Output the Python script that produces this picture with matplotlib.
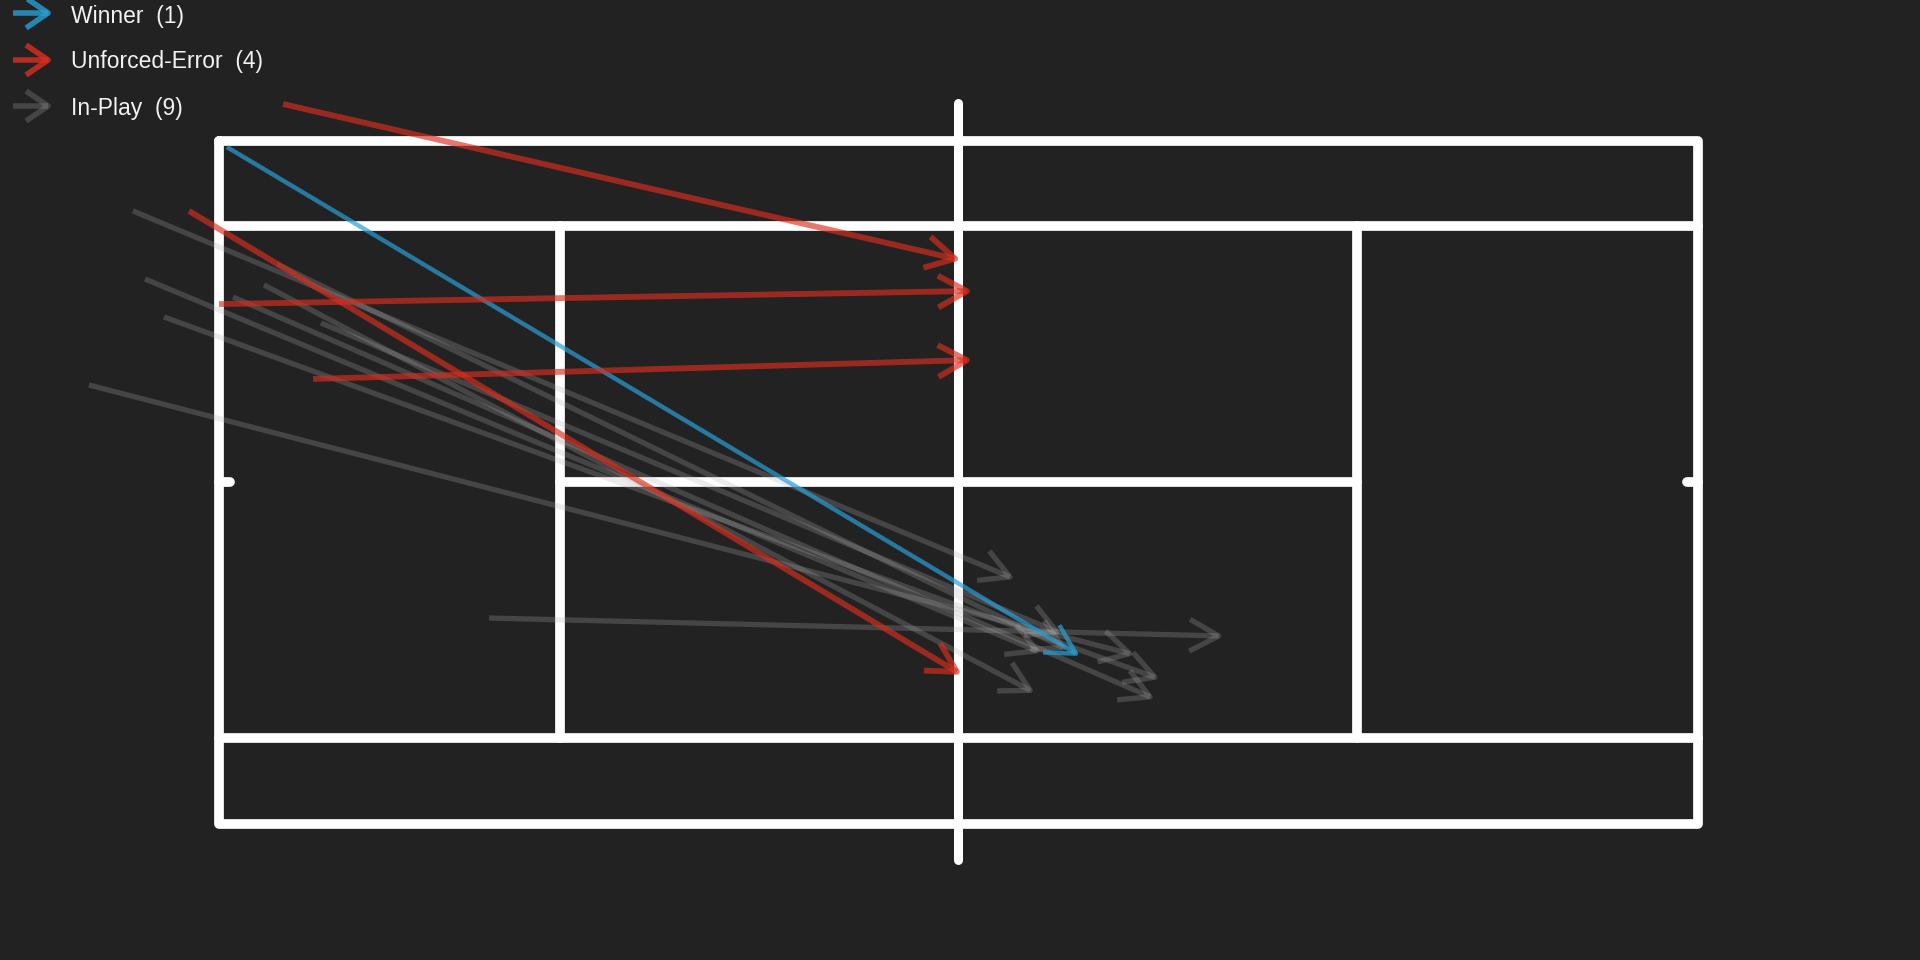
import matplotlib
matplotlib.use("Agg")
import matplotlib.pyplot as plt
from matplotlib.patches import FancyArrowPatch

plt.rcParams['font.family'] = ['Liberation Sans', 'DejaVu Sans']

BG = "#222222"

# shot data in feet: court is 78 x 36, origin at top-left corner of the doubles court
outcomes = ["Winner", "Unforced-Error", "In-Play"]
outcome_colors = {"Winner": "#2a9fd6", "Unforced-Error": "#db2e1f", "In-Play": "#b0b0b0"}
outcome_alpha = {"Winner": 0.7, "Unforced-Error": 0.65, "In-Play": 0.25}
legend_alpha = {"Winner": 0.8, "Unforced-Error": 0.8, "In-Play": 0.25}

winner_start_x = [0.42]
winner_start_y = [0.32]
winner_end_x = [45.41]
winner_end_y = [27.16]

error_start_x = [3.38, 0.00, 4.96, -1.58]
error_start_y = [-1.95, 8.60, 12.55, 3.69]
error_end_x = [39.14, 39.77, 39.77, 39.19]
error_end_y = [6.28, 7.91, 11.55, 28.16]

inplay_start_x = [-4.54, -3.90, -2.90, -6.86, 2.37, 0.74, 5.38, 14.24, 3.06]
inplay_start_y = [3.69, 7.28, 9.28, 12.87, 7.59, 8.23, 9.60, 25.16, 6.49]
inplay_end_x = [41.98, 43.41, 49.63, 48.31, 43.04, 49.37, 44.46, 53.01, 44.78]
inplay_end_y = [23.10, 27.00, 28.38, 27.11, 29.11, 29.43, 26.00, 26.11, 26.85]

shots = {
    "Winner": (winner_start_x, winner_start_y, winner_end_x, winner_end_y),
    "Unforced-Error": (error_start_x, error_start_y, error_end_x, error_end_y),
    "In-Play": (inplay_start_x, inplay_start_y, inplay_end_x, inplay_end_y),
}
line_widths = {"Winner": 3.2, "Unforced-Error": 4.2, "In-Play": 3.8}

fig = plt.figure(figsize=(19.2, 9.6), dpi=100, facecolor=BG)
ax = fig.add_axes([0, 0, 1, 1])
ax.set_facecolor(BG)
ppf = 18.96  # pixels per foot
ax.set_xlim(-219 / ppf, (1920 - 219) / ppf)
ax.set_ylim((960 - 141) / ppf, -141 / ppf)
ax.axis("off")


def court_line(xs, ys, lw=7):
    ax.plot(xs, ys, color="white", lw=lw, solid_capstyle="round",
            solid_joinstyle="round", zorder=1)


# court
court_line([0, 78, 78, 0, 0], [0, 0, 36, 36, 0])
court_line([0, 78], [4.5, 4.5])
court_line([0, 78], [31.5, 31.5])
court_line([18, 18], [4.5, 31.5])
court_line([60, 60], [4.5, 31.5])
court_line([18, 60], [18, 18])
court_line([0, 0.6], [18, 18])
court_line([77.4, 78], [18, 18])
court_line([39, 39], [-2.0, 37.9], lw=6.5)

# shots
for name in ["In-Play", "Winner", "Unforced-Error"]:
    sx, sy, ex, ey = shots[name]
    for i in range(len(sx)):
        arr = FancyArrowPatch((sx[i], sy[i]), (ex[i], ey[i]),
                              arrowstyle="->,head_length=0.4,head_width=0.22",
                              mutation_scale=52, shrinkA=0, shrinkB=0,
                              color=outcome_colors[name], alpha=outcome_alpha[name],
                              lw=line_widths[name], capstyle="butt", zorder=3)
        ax.add_patch(arr)

# legend
arrow_y = [13, 60, 106]
text_base = [23, 68, 115]
for i, name in enumerate(outcomes):
    y = 1 - arrow_y[i] / 960
    arr = FancyArrowPatch((13 / 1920, y), (53 / 1920, y),
                          transform=fig.transFigure,
                          arrowstyle="->,head_length=0.44,head_width=0.3",
                          mutation_scale=36, shrinkA=0, shrinkB=0,
                          color=outcome_colors[name], alpha=legend_alpha[name],
                          lw=4, capstyle="butt")
    fig.patches.append(arr)
    n = len(shots[name][0])
    fig.text(71 / 1920, 1 - text_base[i] / 960, f"{name}  ({n})",
             color="#f2f2f2", fontsize=16.5, va="baseline", ha="left")

fig.savefig("out.png", dpi=100, facecolor=BG)
